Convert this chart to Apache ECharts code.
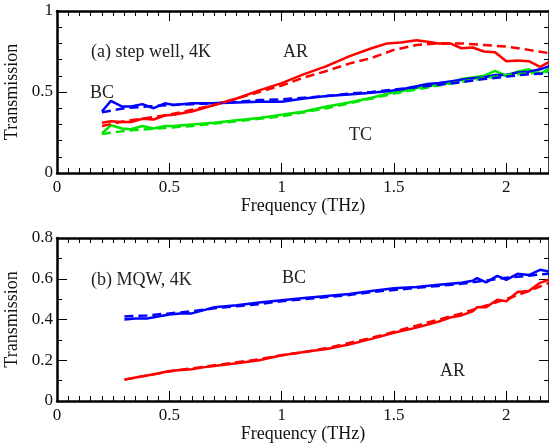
<!DOCTYPE html>
<html>
<head>
<meta charset="utf-8">
<script src="https://cdn.jsdelivr.net/npm/echarts@6/dist/echarts.min.js"></script>
<style>
  html, body { margin: 0; padding: 0; background: #fff; }
  #main { width: 549px; height: 447px; }
</style>
</head>
<body>
<div id="main"></div>
<script>
// (a) step well, 4K -- measured curves
const freqA = [0.2,0.24,0.29,0.33,0.38,0.43,0.48,0.52,0.6,0.7,0.8,0.9,1.0,1.1,1.2,1.3,1.4,1.47,1.53,1.6,1.65,1.7,1.75,1.8,1.85,1.9,1.95,2.0,2.05,2.1,2.15,2.19]
const arA = [0.31,0.32,0.315,0.315,0.335,0.33,0.355,0.36,0.38,0.42,0.46,0.51,0.555,0.61,0.66,0.72,0.77,0.8,0.805,0.82,0.81,0.8,0.8,0.77,0.775,0.75,0.745,0.69,0.695,0.69,0.655,0.685]
const bcA = [0.38,0.445,0.41,0.41,0.425,0.4,0.43,0.42,0.43,0.43,0.435,0.44,0.44,0.46,0.475,0.485,0.495,0.505,0.515,0.535,0.55,0.555,0.565,0.575,0.585,0.59,0.605,0.605,0.62,0.625,0.64,0.66]
const tcA = [0.245,0.295,0.275,0.27,0.29,0.275,0.29,0.29,0.3,0.31,0.325,0.34,0.36,0.38,0.41,0.435,0.465,0.49,0.505,0.525,0.535,0.545,0.555,0.58,0.59,0.6,0.63,0.6,0.625,0.64,0.61,0.645]
// (a) fits
const fitXA = [0.2,0.3,0.4,0.5,0.6,0.7,0.8,0.9,1.0,1.1,1.2,1.3,1.4,1.5,1.6,1.7,1.8,1.9,2.0,2.1,2.19]
const arFitA = [0.29,0.32,0.34,0.36,0.39,0.42,0.46,0.5,0.54,0.59,0.63,0.675,0.71,0.76,0.79,0.8,0.8,0.79,0.78,0.76,0.74]
const bcFitA = [0.375,0.4,0.41,0.42,0.425,0.43,0.44,0.45,0.455,0.465,0.475,0.49,0.5,0.515,0.53,0.545,0.56,0.58,0.595,0.61,0.615]
const tcFitA = [0.24,0.26,0.27,0.28,0.29,0.305,0.32,0.335,0.35,0.375,0.4,0.43,0.46,0.49,0.515,0.54,0.565,0.585,0.605,0.615,0.625]

// (b) MQW, 4K -- measured curves
const freqB = [0.3,0.35,0.4,0.45,0.5,0.55,0.6,0.65,0.7,0.8,0.9,1.0,1.1,1.2,1.3,1.4,1.5,1.6,1.7,1.75,1.8,1.85,1.87,1.91,1.96,2.0,2.05,2.1,2.15,2.19]
const bcB = [0.4,0.405,0.405,0.415,0.425,0.43,0.43,0.445,0.46,0.47,0.483,0.495,0.505,0.515,0.525,0.54,0.553,0.56,0.57,0.575,0.58,0.59,0.603,0.582,0.614,0.595,0.624,0.618,0.644,0.636]
const arB = [0.105,0.115,0.125,0.135,0.147,0.152,0.156,0.165,0.172,0.185,0.2,0.225,0.24,0.255,0.277,0.305,0.335,0.36,0.39,0.41,0.42,0.44,0.46,0.46,0.497,0.49,0.535,0.54,0.58,0.595]
// (b) fits
const fitXB = [0.3,0.4,0.5,0.6,0.7,0.8,0.9,1.0,1.1,1.2,1.3,1.4,1.5,1.6,1.7,1.8,1.9,2.0,2.1,2.19]
const bcFitB = [0.415,0.42,0.43,0.44,0.455,0.465,0.475,0.49,0.5,0.51,0.52,0.535,0.545,0.555,0.565,0.575,0.59,0.605,0.615,0.625]
const arFitB = [0.105,0.125,0.145,0.16,0.175,0.19,0.205,0.225,0.24,0.26,0.285,0.31,0.34,0.37,0.4,0.43,0.465,0.5,0.54,0.58]

const xTicks = [0, 0.5, 1, 1.5, 2]

const font = '"Liberation Serif", "DejaVu Serif", serif'
const zip = (xs, ys) => xs.map((x, i) => [x, ys[i]])

const W = 492
const grids = [
  {left: 57, top: 11, width: W, height: 162, outerBoundsMode: 'none'},
  {left: 57, top: 238, width: W, height: 163, outerBoundsMode: 'none'}
]

const myChart = echarts.init(document.getElementById('main'), null, {renderer: 'canvas'})

const axLine = {show: true, onZero: false, lineStyle: {color: '#000', width: 2.5}}
const tickStyle = {color: '#000', width: 1}

// main x axis: labels + line, ticks come from helper axes
function xMain(gi) {
  return {
    type: 'value', gridIndex: gi, position: 'bottom', min: 0, max: 2.19, interval: 0.5,
    name: 'Frequency (THz)', nameLocation: 'middle', nameGap: 24,
    nameTextStyle: {fontFamily: font, fontSize: 18, color: '#111'},
    axisLine: axLine, axisTick: {show: false}, minorTick: {show: false},
    axisLabel: {fontFamily: font, fontSize: 17, color: '#111', margin: 6,
      formatter: v => (xTicks.indexOf(+(+v).toFixed(2)) >= 0 ? String(v) : '')},
    splitLine: {show: false}
  }
}
// helper x axis, moved onto the opposite edge so its outward ticks point into the plot
function xTickAx(gi, pos, showLine) {
  return {
    type: 'value', gridIndex: gi, position: pos, offset: -grids[gi].height,
    min: 0, max: 2.19, interval: 0.5,
    axisLine: showLine ? axLine : {show: false, onZero: false},
    axisTick: {show: true, length: 10, lineStyle: tickStyle},
    minorTick: {show: true, splitNumber: 10, length: 5, lineStyle: tickStyle},
    axisLabel: {show: false}, splitLine: {show: false}
  }
}
function yMain(gi, max, interval) {
  return {
    type: 'value', gridIndex: gi, position: 'left', min: 0, max: max, interval: interval,
    name: 'Transmission', nameLocation: 'middle', nameGap: 31,
    nameTextStyle: {fontFamily: font, fontSize: 18, color: '#111'},
    axisLine: axLine, axisTick: {show: false}, minorTick: {show: false},
    axisLabel: {fontFamily: font, fontSize: 17, color: '#111', margin: 4},
    splitLine: {show: false}
  }
}
function yTickAx(gi, pos, max, interval, split, showLine) {
  return {
    type: 'value', gridIndex: gi, position: pos, offset: -W,
    min: 0, max: max, interval: interval,
    axisLine: showLine ? axLine : {show: false, onZero: false},
    axisTick: {show: true, length: 10, lineStyle: tickStyle},
    minorTick: {show: true, splitNumber: split, length: 5, lineStyle: tickStyle},
    axisLabel: {show: false}, splitLine: {show: false}
  }
}
function line(xi, yi, data, color, dashed) {
  return {
    type: 'line', xAxisIndex: xi, yAxisIndex: yi, data: data, symbol: 'none',
    lineStyle: {color: color, width: 2.5, type: dashed ? [9, 5] : 'solid'},
    z: dashed ? 3 : 2
  }
}

const red = '#ff0000', blue = '#0000ff', green = '#00e600'

myChart.setOption({
  animation: false,
  grid: grids,
  xAxis: [
    xMain(0), xTickAx(0, 'top', false), xTickAx(0, 'bottom', true),
    xMain(1), xTickAx(1, 'top', false), xTickAx(1, 'bottom', true)
  ],
  yAxis: [
    yMain(0, 1, 0.5), yTickAx(0, 'right', 1, 0.5, 5, false), yTickAx(0, 'left', 1, 0.5, 5, true),
    yMain(1, 0.8, 0.2), yTickAx(1, 'right', 0.8, 0.2, 2, false), yTickAx(1, 'left', 0.8, 0.2, 2, true)
  ],
  series: [
    line(0, 0, zip(freqA, tcA), green, false),
    line(0, 0, zip(fitXA, tcFitA), green, true),
    line(0, 0, zip(freqA, bcA), blue, false),
    line(0, 0, zip(fitXA, bcFitA), blue, true),
    line(0, 0, zip(freqA, arA), red, false),
    line(0, 0, zip(fitXA, arFitA), red, true),
    line(3, 3, zip(freqB, bcB), blue, false),
    line(3, 3, zip(fitXB, bcFitB), blue, true),
    line(3, 3, zip(freqB, arB), red, false),
    line(3, 3, zip(fitXB, arFitB), red, true)
  ],
  graphic: [
    {type: 'text', left: 91, top: 43, style: {text: '(a) step well, 4K', font: '18px ' + font, fill: '#222'}},
    {type: 'text', left: 90, top: 84, style: {text: 'BC', font: '18px ' + font, fill: '#222'}},
    {type: 'text', left: 283, top: 43, style: {text: 'AR', font: '18px ' + font, fill: '#222'}},
    {type: 'text', left: 349, top: 126, style: {text: 'TC', font: '18px ' + font, fill: '#222'}},
    {type: 'text', left: 91, top: 271, style: {text: '(b) MQW, 4K', font: '18px ' + font, fill: '#222'}},
    {type: 'text', left: 282, top: 269, style: {text: 'BC', font: '18px ' + font, fill: '#222'}},
    {type: 'text', left: 440, top: 362, style: {text: 'AR', font: '18px ' + font, fill: '#222'}}
  ]
})
</script>
</body>
</html>
